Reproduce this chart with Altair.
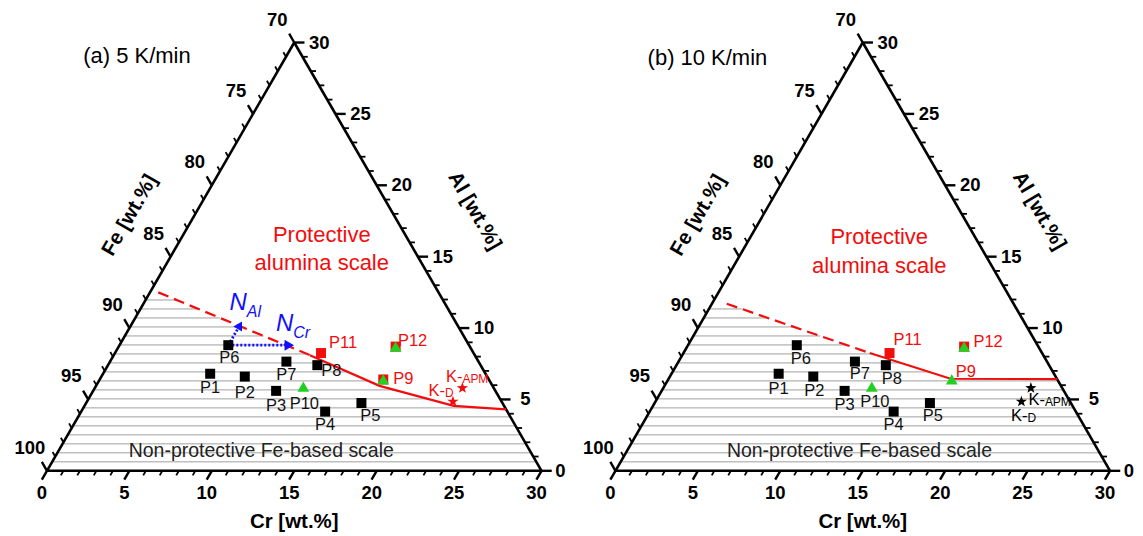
import altair as alt
import numpy as np
import pandas as pd

# ---------------- data ----------------
alloy_names = ["P1", "P2", "P3", "P4", "P5", "P6", "P7", "P8", "P9", "P10", "P11", "P12"]
alloy_cr = [6.5, 8.7, 11.1, 14.8, 16.7, 6.6, 10.7, 12.7, 17.2, 12.6, 12.5, 16.8]
alloy_al = [6.8, 6.6, 5.6, 4.15, 4.75, 8.8, 7.65, 7.4, 6.4, 5.9, 8.25, 8.7]

kanthal_main = ["K-", "K-"]
kanthal_sub = ["APM", "D"]
kanthal_cr = [22.3, 22.2]
kanthal_al = [5.8, 4.85]

# protective / non-protective boundary
a_dash_cr = [0.5, 11.9]
a_dash_al = [12.5, 8.1]
a_solid_cr = [11.9, 17.2, 22.4, 25.7]
a_solid_al = [8.1, 5.95, 4.55, 4.3]
b_dash_cr = [0.9, 11.3]
b_dash_al = [11.7, 8.25]
b_solid_cr = [11.3, 17.1, 23.6]
b_solid_al = [8.25, 6.45, 6.42]

# diffusion-direction arrows (start at P6)
arrow_names = ["Al", "Cr"]
arrow_end_cr = [6.6, 10.3]
arrow_end_al = [10.2, 8.8]

cr_tick_labels = [0, 5, 10, 15, 20, 25, 30]
al_tick_labels = [0, 5, 10, 15, 20, 25, 30]
fe_tick_labels = [70, 75, 80, 85, 90, 95, 100]

panel_titles = {"a": "(a) 5 K/min", "b": "(b) 10 K/min"}

# marker groups per panel
black_sq = {"a": ["P1", "P2", "P3", "P4", "P5", "P6", "P7", "P8"],
            "b": ["P1", "P2", "P3", "P4", "P5", "P6", "P7", "P8"]}
red_sq = {"a": ["P9", "P11", "P12"], "b": ["P11", "P12"]}
green_tri = {"a": ["P9", "P10", "P12"], "b": ["P9", "P10", "P12"]}
red_labels = ["P9", "P11", "P12"]

# ---------------- style / layout ----------------
S = 16.5                     # px per composition unit
SQ3 = float(np.sqrt(3) / 2)
PANEL_H = 526
BOTTOM_PX = 471
PANELS = {
    "a": {"left": 8, "width": 569, "bl": 47},
    "b": {"left": 577, "width": 558, "bl": 616},
}
FONT = "Liberation Sans"
RED = "#f20d0d"
GREEN = "#22d022"
BLUE = "#1010ff"
BLACK = "#000000"
GRAY = "#a0a0a0"
HATCH_PX = 9.0
STAR = ("M0,-1L0.235,-0.324L0.951,-0.309L0.38,0.124L0.588,0.809L0,0.4"
        "L-0.588,0.809L-0.38,0.124L-0.951,-0.309L-0.235,-0.324Z")

label_off = {
    "a": {"P1": (0, 14), "P2": (0, 16), "P3": (0, 15), "P4": (0, 13), "P5": (9, 13),
          "P6": (1, 13), "P7": (0, 13), "P8": (14, 6), "P9": (20, 0), "P10": (1, 17),
          "P11": (22, -10), "P12": (17, -6)},
    "b": {"P1": (0, 15), "P2": (1, 14), "P3": (0, 14), "P4": (0, 13), "P5": (3, 13),
          "P6": (4, 14), "P7": (5, 12), "P8": (6, 14), "P9": (14, -7), "P10": (3, 15),
          "P11": (18, -13), "P12": (24, -5)},
}
k_off = {"a": [(0, -11), (-8, -11)], "b": [(14, 12), (6, 14)]}
k_color = {"a": RED, "b": BLACK}

# annotation anchors (in the panel's data units)
annot = {
    "a": {"title": (2.2, 25.15), "prot": (16.67, 14.3), "prot2": (16.67, 12.6),
          "nonprot": (13.0, 1.21), "fe": (5.03, 15.5), "al": (25.94, 15.76)},
    "b": {"title": (1.95, 25.05), "prot": (16.0, 14.18), "prot2": (16.0, 12.42),
          "nonprot": (14.8, 1.21), "fe": (5.03, 15.5), "al": (25.7, 15.76)},
}


def tern(cr, al):
    cr = np.asarray(cr, dtype=float)
    al = np.asarray(al, dtype=float)
    return cr + al / 2.0, al * SQ3


def pt(cr, al):
    x, y = tern(cr, al)
    return float(x), float(y)


def make_panel(key):
    p = PANELS[key]
    xmin = (p["left"] - p["bl"]) / S
    xmax = xmin + p["width"] / S
    ymin = (BOTTOM_PX - (8 + PANEL_H)) / S
    ymax = (BOTTOM_PX - 8) / S
    xs = alt.Scale(domain=[xmin, xmax], nice=False, zero=False)
    ys = alt.Scale(domain=[ymin, ymax], nice=False, zero=False)

    def exy():
        return dict(x=alt.X("x:Q", scale=xs, axis=None),
                    y=alt.Y("y:Q", scale=ys, axis=None))

    def erule():
        d = exy()
        d["x2"] = alt.X2("x2:Q")
        d["y2"] = alt.Y2("y2:Q")
        return d

    layers = []

    # ---- hatching of the non-protective region ----
    if key == "a":
        bcr = a_dash_cr + a_solid_cr[1:]
        bal = a_dash_al + a_solid_al[1:]
    else:
        bcr = b_dash_cr + b_solid_cr[1:]
        bal = b_dash_al + b_solid_al[1:]
    bx, by = tern(bcr, bal)
    rows = []
    k = 1
    while True:
        yy = k * HATCH_PX / S
        if yy >= by.max() - 0.05:
            break
        al_h = yy / SQ3
        xl = al_h / 2.0
        xr_side = 30 - al_h / 2.0
        if yy <= by.min():
            xr = xr_side
        else:
            xr = float(np.interp(yy, by[::-1], bx[::-1]))
        xr = min(xr, xr_side)
        rows.append(dict(x=float(xl), y=float(yy), x2=float(xr), y2=float(yy)))
        k += 1
    layers.append(alt.Chart(pd.DataFrame(rows)).mark_rule(color=GRAY, strokeWidth=1).encode(**erule()))

    # ---- triangle frame ----
    v = [pt(0, 0), pt(30, 0), pt(0, 30)]
    frame = pd.DataFrame([
        dict(x=v[0][0], y=v[0][1], x2=v[1][0], y2=v[1][1]),
        dict(x=v[1][0], y=v[1][1], x2=v[2][0], y2=v[2][1]),
        dict(x=v[2][0], y=v[2][1], x2=v[0][0], y2=v[0][1]),
    ])
    layers.append(alt.Chart(frame).mark_rule(color=BLACK, strokeWidth=2.6).encode(**erule()))

    # ---- ticks ----
    maj, mnr = [], []
    for i in range(31):
        L = 0.62 if i % 5 == 0 else 0.32
        tgt = maj if i % 5 == 0 else mnr
        # Cr (bottom), pointing down-left
        x0, y0 = pt(i, 0)
        tgt.append(dict(x=x0, y=y0, x2=x0 - 0.5 * L, y2=y0 - SQ3 * L))
        # Al (right side), pointing right
        x0, y0 = pt(30 - i, i)
        tgt.append(dict(x=x0, y=y0, x2=x0 + L, y2=y0))
        # Fe (left side), pointing up-left
        x0, y0 = pt(0, i)
        tgt.append(dict(x=x0, y=y0, x2=x0 - 0.5 * L, y2=y0 + SQ3 * L))
    layers.append(alt.Chart(pd.DataFrame(maj)).mark_rule(color=BLACK, strokeWidth=2.4).encode(**erule()))
    layers.append(alt.Chart(pd.DataFrame(mnr)).mark_rule(color=BLACK, strokeWidth=1.8).encode(**erule()))

    # ---- tick labels ----
    TL = dict(font=FONT, fontWeight="bold", fontSize=18.5, color=BLACK)
    cx, cy = tern(cr_tick_labels, [0] * 7)
    df = pd.DataFrame(dict(x=cx, y=cy, t=[str(v) for v in cr_tick_labels]))
    layers.append(alt.Chart(df).mark_text(dx=-5, dy=22, **TL).encode(**exy(), text="t:N"))
    ax_, ay_ = tern([30 - v for v in al_tick_labels], al_tick_labels)
    dfa = pd.DataFrame(dict(x=ax_, y=ay_, t=[str(v) for v in al_tick_labels]))
    layers.append(alt.Chart(dfa[dfa.t != "0"]).mark_text(dx=25, **TL).encode(**exy(), text="t:N"))
    layers.append(alt.Chart(dfa[dfa.t == "0"]).mark_text(dx=19, **TL).encode(**exy(), text="t:N"))
    fx, fy = tern([0] * 7, [100 - v for v in fe_tick_labels])
    dff = pd.DataFrame(dict(x=fx, y=fy, t=[str(v) for v in fe_tick_labels]))
    layers.append(alt.Chart(dff).mark_text(dx=-17, dy=-23, **TL).encode(**exy(), text="t:N"))

    # ---- axis titles ----
    AT = dict(font=FONT, fontWeight="bold", fontSize=20.5, color=BLACK)
    tx, ty = pt(15, 0)
    layers.append(alt.Chart(pd.DataFrame(dict(x=[tx], y=[ty], t=["Cr [wt.%]"]))).mark_text(
        dy=51, **AT).encode(**exy(), text="t:N"))
    a = annot[key]
    layers.append(alt.Chart(pd.DataFrame(dict(x=[a["fe"][0]], y=[a["fe"][1]], t=["Fe [wt.%]"]))).mark_text(
        angle=300, **AT).encode(**exy(), text="t:N"))
    layers.append(alt.Chart(pd.DataFrame(dict(x=[a["al"][0]], y=[a["al"][1]], t=["Al [wt.%]"]))).mark_text(
        angle=60, **AT).encode(**exy(), text="t:N"))

    # ---- boundary lines ----
    if key == "a":
        dcr, dal, scr, sal = a_dash_cr, a_dash_al, a_solid_cr, a_solid_al
    else:
        dcr, dal, scr, sal = b_dash_cr, b_dash_al, b_solid_cr, b_solid_al
    dx_, dy_ = tern(dcr, dal)
    sx_, sy_ = tern(scr, sal)
    layers.append(alt.Chart(pd.DataFrame(dict(x=dx_, y=dy_, i=range(len(dx_))))).mark_line(
        color=RED, strokeWidth=2.2, strokeDash=[11, 6]).encode(**exy(), order="i:Q"))
    layers.append(alt.Chart(pd.DataFrame(dict(x=sx_, y=sy_, i=range(len(sx_))))).mark_line(
        color=RED, strokeWidth=2.2).encode(**exy(), order="i:Q"))

    # ---- arrows (panel a) ----
    px6, py6 = pt(alloy_cr[5], alloy_al[5])
    if key == "a":
        ex, ey = tern(arrow_end_cr, arrow_end_al)
        adf = pd.DataFrame(dict(x=[px6, px6], y=[py6, py6], x2=ex, y2=ey))
        layers.append(alt.Chart(adf).mark_rule(color=BLUE, strokeWidth=2.8, strokeDash=[2, 2]).encode(**erule()))
        layers.append(alt.Chart(pd.DataFrame(dict(x=[ex[0]], y=[ey[0]]))).mark_point(
            shape="triangle-up", angle=30, filled=True, size=100, color=BLUE, opacity=1).encode(**exy()))
        layers.append(alt.Chart(pd.DataFrame(dict(x=[ex[1]], y=[ey[1]]))).mark_point(
            shape="triangle-right", filled=True, size=120, color=BLUE, opacity=1).encode(**exy()))
        # N labels
        for j, (ddx, ddy) in enumerate([(7, -22), (4, -21)]):
            layers.append(alt.Chart(pd.DataFrame(dict(x=[ex[j]], y=[ey[j]], t=["N"]))).mark_text(
                font=FONT, fontStyle="italic", fontSize=24, align="right", dx=ddx, dy=ddy,
                color=BLUE).encode(**exy(), text="t:N"))
            layers.append(alt.Chart(pd.DataFrame(dict(x=[ex[j]], y=[ey[j]], t=[arrow_names[j]]))).mark_text(
                font=FONT, fontStyle="italic", fontSize=16, align="left", dx=ddx, dy=ddy + 9,
                color=BLUE).encode(**exy(), text="t:N"))

    # ---- alloy markers ----
    ax_all, ay_all = tern(alloy_cr, alloy_al)
    adf = pd.DataFrame(dict(name=alloy_names, x=ax_all, y=ay_all))
    layers.append(alt.Chart(adf[adf.name.isin(black_sq[key])]).mark_point(
        shape="square", filled=True, size=100, color=BLACK, opacity=1).encode(**exy()))
    layers.append(alt.Chart(adf[adf.name.isin(red_sq[key])]).mark_point(
        shape="square", filled=True, size=100, color=RED, opacity=1).encode(**exy()))
    layers.append(alt.Chart(adf[adf.name.isin(green_tri[key])]).mark_point(
        shape="triangle-up", filled=True, size=140, color=GREEN, opacity=1).encode(**exy()))

    # ---- Kanthal markers ----
    kx, ky = tern(kanthal_cr, kanthal_al)
    layers.append(alt.Chart(pd.DataFrame(dict(x=kx, y=ky))).mark_point(
        shape=STAR, filled=True, size=140, color=k_color[key], opacity=1).encode(**exy()))

    # ---- alloy labels ----
    offs = label_off[key]
    lx = [float(ax_all[i]) + offs[n][0] / S for i, n in enumerate(alloy_names)]
    ly = [float(ay_all[i]) - offs[n][1] / S for i, n in enumerate(alloy_names)]
    ldf = pd.DataFrame(dict(x=lx, y=ly, t=alloy_names,
                            c=[RED if n in red_labels else "#111111" for n in alloy_names]))
    layers.append(alt.Chart(ldf).mark_text(font=FONT, fontSize=16.5).encode(
        **exy(), text="t:N", color=alt.Color("c:N", scale=None)))

    # ---- Kanthal labels ----
    kl_x = [float(kx[i]) + k_off[key][i][0] / S for i in range(2)]
    kl_y = [float(ky[i]) - k_off[key][i][1] / S for i in range(2)]
    layers.append(alt.Chart(pd.DataFrame(dict(x=kl_x, y=kl_y, t=kanthal_main))).mark_text(
        font=FONT, fontSize=16.5, align="right", color=k_color[key]).encode(**exy(), text="t:N"))
    layers.append(alt.Chart(pd.DataFrame(dict(x=kl_x, y=kl_y, t=kanthal_sub))).mark_text(
        font=FONT, fontSize=12, align="left", dy=2, color=k_color[key]).encode(**exy(), text="t:N"))

    # ---- region annotations ----
    def note(pos, txt, **kw):
        return alt.Chart(pd.DataFrame(dict(x=[pos[0]], y=[pos[1]], t=[txt]))).mark_text(
            font=FONT, **kw).encode(**exy(), text="t:N")

    layers.append(note(a["title"], panel_titles[key], fontSize=22, align="left", color=BLACK))
    layers.append(note(a["prot"], "Protective", fontSize=22, color=RED))
    layers.append(note(a["prot2"], "alumina scale", fontSize=22, color=RED))
    layers.append(note(a["nonprot"], "Non-protective Fe-based scale", fontSize=19.5, color="#222222"))

    return alt.layer(*layers).properties(width=p["width"], height=PANEL_H)


chart = alt.hconcat(make_panel("a"), make_panel("b"), spacing=0, padding=0).configure_view(stroke=None)
chart.save("out.html", embed_options={"renderer": "svg", "actions": False})
